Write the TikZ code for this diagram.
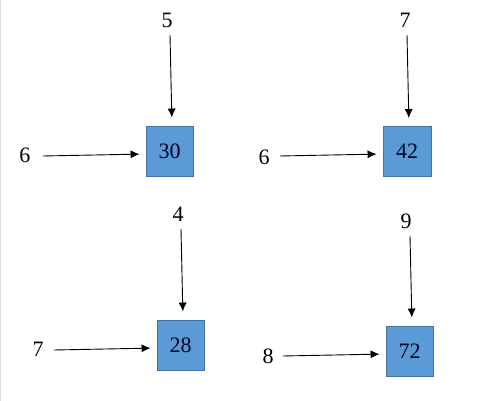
\documentclass[tikz,border=0pt]{standalone}
\usepackage{fontspec}
\setmainfont{Liberation Serif}
\usetikzlibrary{arrows.meta}
\definecolor{boxfill}{HTML}{5B9BD5}
\definecolor{boxline}{HTML}{41719C}
\begin{document}
\begin{tikzpicture}[x=1pt,y=-1pt,
  valbox/.style={draw=boxline,fill=boxfill,line width=0.9pt,minimum width=47pt,minimum height=50pt,inner sep=0pt,font=\fontsize{22}{25}\selectfont,text=black!85!blue},
  numlabel/.style={inner sep=0pt,font=\fontsize{22}{25}\selectfont},
  feed/.style={line width=0.9pt,-{Latex[length=9pt,width=8pt]}},
  vfeed/.style={feed,shorten >=8pt},
  hfeed/.style={feed,shorten >=6pt}]
\useasboundingbox (0,0) rectangle (479,401);
\fill[white] (0,0) rectangle (479,401);
\draw[gray!30,line width=1.2pt] (0.6,0) -- (0.6,401);
% boxes
\node[valbox] (b1) at (169.5,151) {30};
\node[valbox,minimum width=48pt] (b2) at (407,151.5) {42};
\node[valbox] (b3) at (180.5,345) {28};
\node[valbox] (b4) at (409.5,351) {72};
% labels
\node[numlabel] (t1) at (167,20) {5};
\node[numlabel] (l1) at (25,155) {6};
\node[numlabel] (t2) at (405,20) {7};
\node[numlabel] (l2) at (264,157) {6};
\node[numlabel] (t3) at (178,214) {4};
\node[numlabel] (l3) at (38,349) {7};
\node[numlabel] (t4) at (406,221) {9};
\node[numlabel] (l4) at (268,356) {8};
% arrow starts
\coordinate (v1) at (170,35);
\coordinate (h1) at (43,156);
\coordinate (v2) at (407,35);
\coordinate (h2) at (280,156);
\coordinate (v3) at (181,229);
\coordinate (h3) at (54,350);
\coordinate (v4) at (410,236);
\coordinate (h4) at (283,356);
% arrows
\draw[vfeed] (v1) -- ([xshift=2.5pt]b1.north);
\draw[hfeed] (h1) -- ([yshift=-3pt]b1.west);
\draw[vfeed] (v2) -- ([xshift=2pt]b2.north);
\draw[hfeed] (h2) -- ([yshift=-2.5pt]b2.west);
\draw[vfeed] (v3) -- ([xshift=2.5pt]b3.north);
\draw[hfeed] (h3) -- ([yshift=-3pt]b3.west);
\draw[vfeed] (v4) -- ([xshift=2.5pt]b4.north);
\draw[hfeed] (h4) -- ([yshift=-3pt]b4.west);
\end{tikzpicture}
\end{document}
